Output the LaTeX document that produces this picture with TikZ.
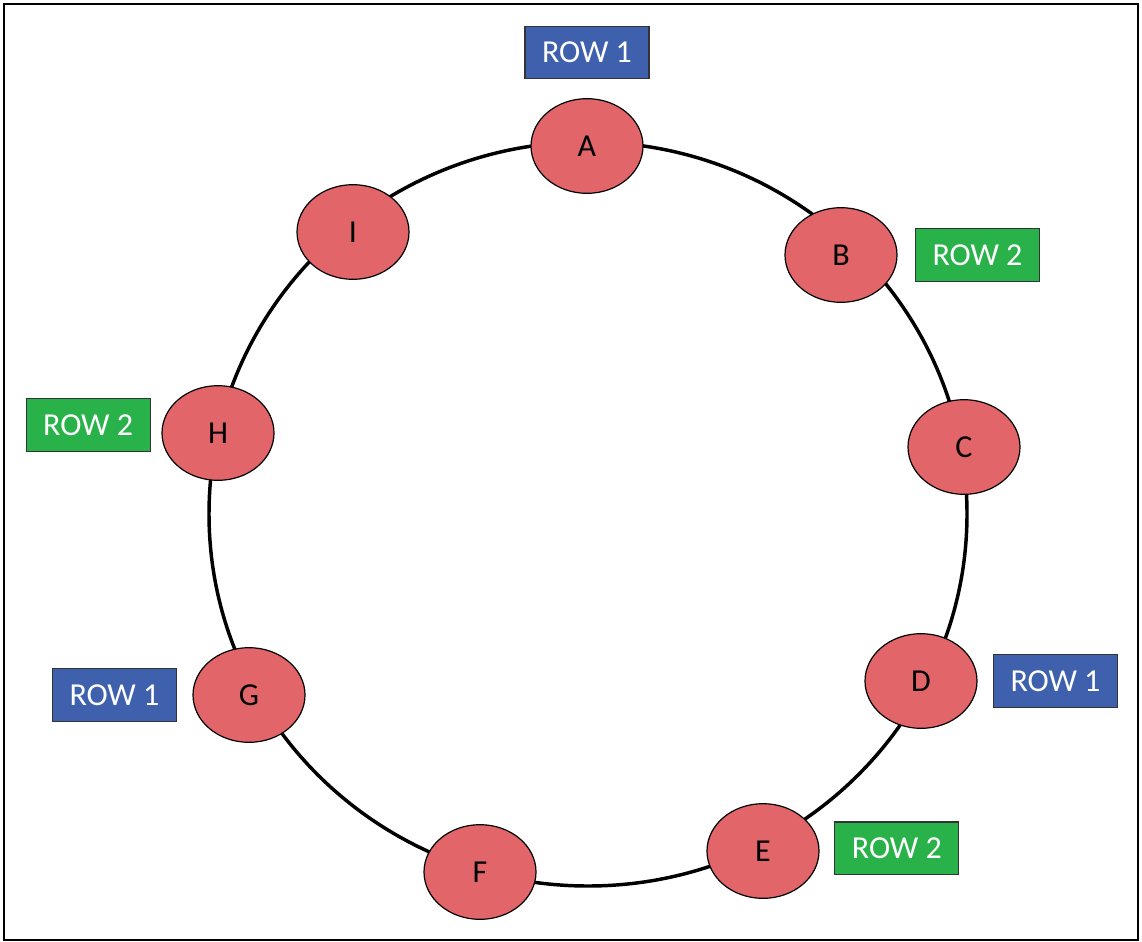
\documentclass[tikz,border=0pt]{standalone}
\usepackage{fontspec}
\setmainfont{Carlito}
\usetikzlibrary{shapes.geometric,positioning}

\definecolor{peerred}{HTML}{E2656A}
\definecolor{rowblue}{HTML}{3E60AD}
\definecolor{rowgreen}{HTML}{2AB24A}

\tikzstyle{peer}=[ellipse, draw, line width=0.9pt, fill=peerred, minimum width=84pt, minimum height=71pt, inner sep=0pt, font=\fontsize{24}{27}\selectfont]
\tikzstyle{rowbox}=[draw=black!80, line width=0.9pt, text=white, minimum width=93pt, minimum height=39.5pt, inner sep=0pt, font=\fontsize{24}{27}\selectfont]
\tikzstyle{rowone}=[rowbox, fill=rowblue]
\tikzstyle{rowtwo}=[rowbox, fill=rowgreen]

\begin{document}
\begin{tikzpicture}[x=0.75pt, y=-0.75pt]
      \useasboundingbox (0,0) rectangle (1142,942);
      \draw[line width=1.9pt] (4,4) rectangle (1138,940);
      \draw[line width=2.6pt] (588,514) ellipse [x radius=379, y radius=372];
      \foreach \n/\p in {A/{587,146}, B/{841,255}, C/{964,447}, D/{921,681}, E/{763,851},
                         F/{480,872}, G/{249,695}, H/{218,433}, I/{353,232}} {%
        \node[peer] (\n) at (\p) {\n};
      }
      \node[rowone, above=14pt of A] (rowA) {ROW 1};
      \node[rowtwo, right=13pt of B] (rowB) {ROW 2};
      \node[rowone, right=11.5pt of D] (rowD) {ROW 1};
      \node[rowtwo, right=11pt of E, yshift=2pt] (rowE) {ROW 2};
      \node[rowone, left=11.5pt of G] (rowG) {ROW 1};
      \node[rowtwo, left=8pt of H, yshift=6pt] (rowH) {ROW 2};
    \end{tikzpicture}
\end{document}
